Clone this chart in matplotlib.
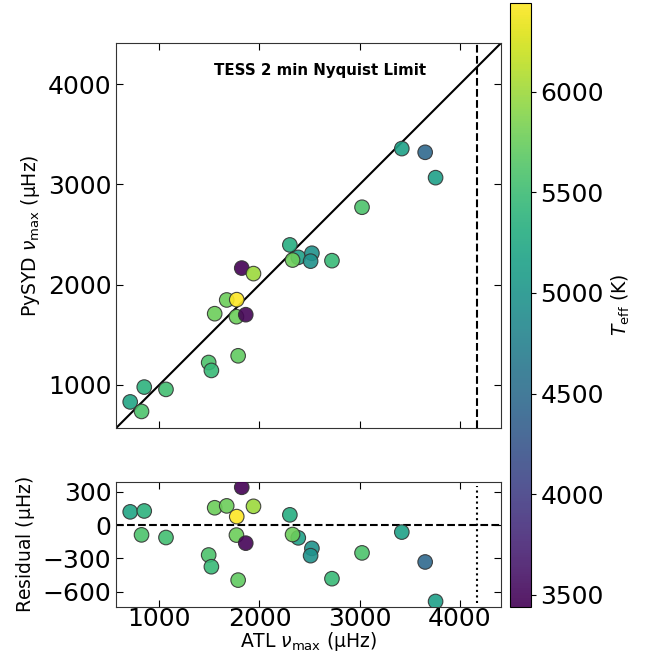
import matplotlib
matplotlib.use("Agg")
import matplotlib.pyplot as plt
import numpy as np

# ATL vs PySYD numax (uHz) and effective temperatures (K)
atl_numax = [710, 823, 850, 1067, 1493, 1520, 1787, 1553, 1673, 1773, 1770, 1863,
             1823, 1940, 2303, 2387, 2330, 2523, 2510, 2723, 3023, 3420, 3653, 3757]
residual = [120, -88, 128, -112, -270, -376, -497, 157, 174, 77, -90, -163,
            342, 170, 93, -115, -85, -210, -276, -484, -251, -63, -333, -690]
teff = [5200, 5590, 5370, 5530, 5590, 5460, 5710, 5770, 5770, 6440, 5770, 3470,
        3440, 5990, 5310, 5160, 5770, 4970, 4970, 5460, 5590, 5160, 4450, 5130]

nyquist = 4166.67
lims = (570, 4410)
res_lims = (-740, 390)

atl_numax = np.array(atl_numax)
pysyd_numax = atl_numax + np.array(residual)

fig = plt.figure(figsize=(6.49, 6.66), dpi=100)
ax1 = fig.add_axes([0.179, 0.3574, 0.593, 0.578])
ax2 = fig.add_axes([0.179, 0.0886, 0.593, 0.1877])
cax = fig.add_axes([0.786, 0.0886, 0.032, 0.907])

kw = dict(c=teff, cmap='viridis', vmin=min(teff), vmax=max(teff), s=110,
          edgecolors='#333333', linewidths=0.8, alpha=0.9, zorder=3)

sc = ax1.scatter(atl_numax, pysyd_numax, **kw)
ax1.plot(lims, lims, color='black', lw=1.5, zorder=2)
ax1.axvline(nyquist, color='black', ls='--', lw=1.5)
ax1.text(2600, 4140, 'TESS 2 min Nyquist Limit', ha='center', va='center',
         fontsize=10.8, fontweight='bold')
ax1.set_xlim(lims)
ax1.set_ylim(lims)
ax1.set_xticks([1000, 2000, 3000, 4000])
ax1.set_yticks([1000, 2000, 3000, 4000])
ax1.set_xticklabels([])
ax1.set_ylabel(r'PySYD $\nu_{\rm max}$ ($\mathrm{\mu}$Hz)', fontsize=13.5)

ax2.scatter(atl_numax, residual, **kw)
ax2.axhline(0, color='black', ls='--', lw=1.5)
ax2.vlines(nyquist, -700, 350, color='black', ls=':', lw=1.5)
ax2.set_xlim(lims)
ax2.set_ylim(res_lims)
ax2.set_xticks([1000, 2000, 3000, 4000])
ax2.set_yticks([300, 0, -300, -600])
ax2.set_xlabel(r'ATL $\nu_{\rm max}$ ($\mathrm{\mu}$Hz)', fontsize=13.5, labelpad=-1)
ax2.set_ylabel(r'Residual ($\mathrm{\mu}$Hz)', fontsize=13.5)

for ax in (ax1, ax2):
    ax.tick_params(direction='in', top=True, right=True, labelsize=18, length=5)
    for sp in ax.spines.values():
        sp.set_color('#333333')
ax2.tick_params(axis='x', pad=0)

cb = fig.colorbar(sc, cax=cax)
cb.set_alpha(1)
cb.set_ticks([3500, 4000, 4500, 5000, 5500, 6000])
cb.ax.tick_params(labelsize=18)
cb.set_label(r'$T_{\rm eff}$ (K)', fontsize=13.5)

fig.savefig('out.png', dpi=100)
